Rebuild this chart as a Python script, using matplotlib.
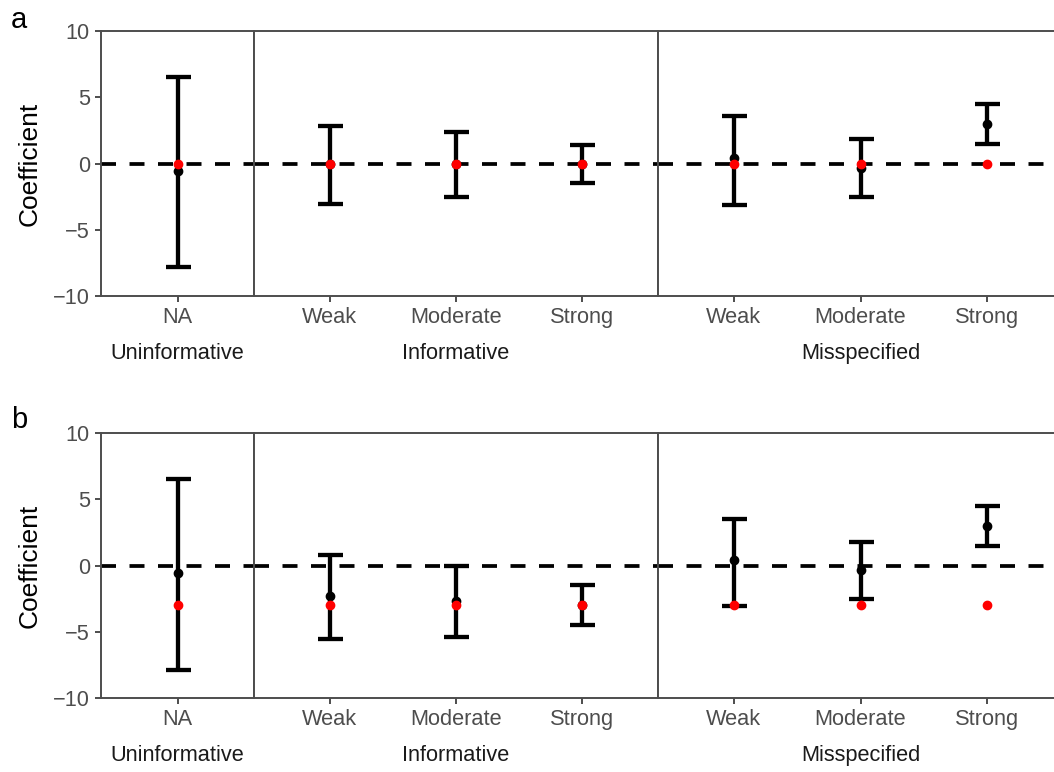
import matplotlib.pyplot as plt
import numpy as np

plt.rcParams['font.family'] = ['Liberation Sans', 'DejaVu Sans']

# prior type (facet) and prior strength for each estimate
groups = ["Uninformative", "Informative", "Informative", "Informative",
          "Misspecified", "Misspecified", "Misspecified"]
strength = ["NA", "Weak", "Moderate", "Strong", "Weak", "Moderate", "Strong"]
facets = ["Uninformative", "Informative", "Misspecified"]

# panel a
a_est = [-0.55, -0.05, 0.0, 0.0, 0.39, -0.36, 2.98]
a_lo = [-7.8, -3.08, -2.53, -1.45, -3.13, -2.5, 1.47]
a_hi = [6.5, 2.83, 2.4, 1.42, 3.56, 1.85, 4.49]
a_true = [0, 0, 0, 0, 0, 0, 0]

# panel b
b_est = [-0.57, -2.28, -2.66, -3.0, 0.39, -0.34, 2.95]
b_lo = [-7.87, -5.58, -5.4, -4.49, -3.06, -2.5, 1.47]
b_hi = [6.53, 0.76, -0.02, -1.47, 3.53, 1.8, 4.46]
b_true = [-3, -3, -3, -3, -3, -3, -3]

W, H = 1054, 772
fig = plt.figure(figsize=(W / 100, H / 100), dpi=100)

edges = [101, 254, 658, 1063]
panels = [("a", 20, 31, 296, a_est, a_lo, a_hi, a_true),
          ("b", 420, 433, 698, b_est, b_lo, b_hi, b_true)]

gray = "#4D4D4D"

for tag, ty, top, bot, est, lo, hi, true in panels:
    fig.text(11 / W, 1 - ty / H, tag, fontsize=21, va="center", ha="left")
    for k, fac in enumerate(facets):
        idx = [i for i, g in enumerate(groups) if g == fac]
        ax = fig.add_axes([edges[k] / W, 1 - bot / H,
                           (edges[k + 1] - edges[k]) / W, (bot - top) / H])
        n = len(idx)
        x = np.arange(n)
        e = np.array([est[i] for i in idx])
        l = np.array([lo[i] for i in idx])
        h = np.array([hi[i] for i in idx])
        t = np.array([true[i] for i in idx])

        ax.axhline(0, color="black", lw=2.7, ls=(0, (4, 3.6)), zorder=1)
        ax.errorbar(x, e, yerr=[e - l, h - e], fmt="none", ecolor="black",
                    elinewidth=3.1, capsize=9, capthick=3.1, zorder=2)
        ax.plot(x, e, "o", color="black", ms=6, zorder=3)
        ax.plot(x, t, "o", color="red", ms=6, zorder=4)

        ax.set_xlim(-0.6, n - 0.4)
        ax.set_ylim(-10, 10)
        ax.set_xticks(x)
        ax.set_xticklabels([strength[i] for i in idx])
        ax.set_xlabel(fac, fontsize=15.7, color="#1A1A1A", labelpad=11)
        for s in ax.spines.values():
            s.set_color(gray)
            s.set_linewidth(1.4)
        ax.tick_params(axis="x", length=4, width=1.4, color=gray,
                       labelsize=15.7, labelcolor=gray, pad=4)
        if k == 0:
            ax.set_yticks([-10, -5, 0, 5, 10])
            ax.tick_params(axis="y", length=4, width=1.4, color=gray,
                           labelsize=15.7, labelcolor=gray, pad=4)
            ax.set_ylabel("Coefficient", fontsize=19, labelpad=8)
        else:
            ax.set_yticks([])

fig.savefig("out.png", dpi=100)
